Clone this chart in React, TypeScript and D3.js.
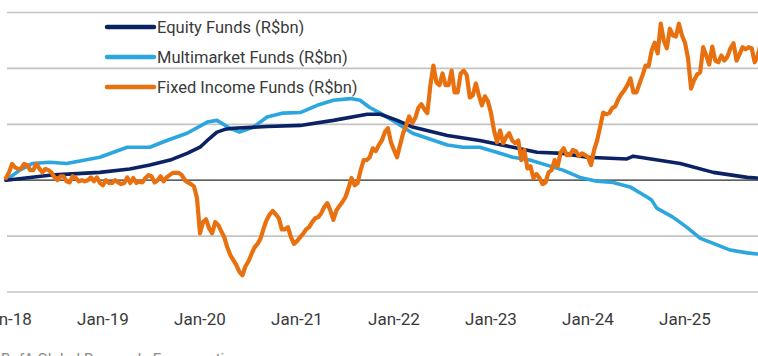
import React from "react";
import * as d3 from "d3";

// ---- Data (cumulative flows, R$bn) ----
const yearLabels = ["Jan-18", "Jan-19", "Jan-20", "Jan-21", "Jan-22", "Jan-23", "Jan-24", "Jan-25"];
const tickYears = [2018, 2019, 2020, 2021, 2022, 2023, 2024, 2025];
const gridValues = [-200, -100, 0, 100, 200, 300];

// Equity funds: months since Jan-18, values
const equityMonths = [0, 5.4, 11.6, 15.3, 17.8, 20.3, 22.4, 24.0, 25.2, 26.1, 27.1, 28.1, 32.3, 36.4, 40.5, 44.7, 46.3, 48.4, 50.3, 54.6, 58.6, 62.7, 65.7, 68.9, 71.9, 76.8, 77.6, 83.4, 87.5, 91.7, 92.9];
const equityValues = [0, 9, 14, 20, 27, 36, 48, 59, 75, 86, 91, 93, 96, 98, 107, 118, 118, 107, 95, 80, 71, 59, 50, 48, 41, 38, 43, 30, 14, 5, 4];

// Multimarket funds: months since Jan-18, values
const multiMonths = [0, 1.7, 3.3, 5.4, 7.5, 11.6, 15.0, 17.8, 19.9, 22.4, 24.9, 26.1, 27.7, 28.9, 30.6, 32.3, 34.3, 36.4, 38.5, 40.5, 42.6, 43.8, 45.0, 46.3, 48.4, 50.3, 54.6, 56.5, 58.6, 60.7, 62.7, 64.8, 66.9, 68.9, 71.0, 73.1, 75.1, 77.2, 79.3, 79.9, 80.5, 82.5, 84.2, 85.9, 87.5, 89.6, 91.7, 92.9];
const multiValues = [0, 18, 30, 32, 30, 41, 59, 59, 71, 84, 104, 107, 93, 86, 95, 113, 120, 121, 134, 143, 146, 143, 130, 120, 102, 84, 63, 59, 59, 50, 41, 36, 27, 18, 5, -2, -4, -12, -30, -36, -50, -66, -84, -104, -113, -125, -130, -132];

// Fixed income funds: one observation every 1/32 year from Jan-18
const fixedStepsPerYear = 32;
const fixedValues = [
  4, 14, 29, 23, 20, 21, 29, 27, 18, 18, 29, 21, 14, 20, 18, 14, 5, 0, 7, 7,
  -2, -4, 7, 4, -2, 0, -2, 0, 5, -2, 5, -5, -9, 0, -5, -5, 0, -4, -7, -5,
  5, -5, 4, -5, -2, -4, 4, 9, 7, -4, 0, 7, -2, 5, 9, 13, 13, 13, 9, 0,
  -4, -7, -11, -32, -95, -75, -70, -86, -95, -75, -80, -91, -102, -120, -134, -143, -152, -164, -170, -154,
  -145, -132, -120, -114, -104, -86, -71, -61, -55, -61, -68, -88, -88, -84, -102, -114, -109, -102, -96, -88,
  -84, -75, -68, -66, -59, -48, -41, -54, -71, -54, -46, -39, -30, -14, 4, -9, -5, 18, 36, 36,
  41, 57, 52, 63, 71, 86, 93, 68, 54, 41, 63, 84, 98, 114, 102, 111, 129, 136, 127, 120,
  170, 205, 175, 170, 191, 170, 170, 196, 157, 157, 191, 196, 188, 148, 152, 173, 152, 134, 150, 141,
  120, 89, 68, 89, 66, 77, 84, 71, 66, 71, 36, 54, 21, 25, 4, 11, 4, -7, -4, 14,
  18, 36, 25, 50, 57, 45, 45, 54, 52, 43, 48, 45, 41, 27, 54, 71, 95, 121, 118, 120,
  129, 132, 145, 154, 161, 170, 182, 157, 157, 173, 188, 205, 204, 232, 246, 227, 280, 250, 236, 271,
  259, 257, 280, 259, 246, 218, 164, 179, 189, 193, 238, 223, 207, 239, 214, 211, 223, 214, 221, 236,
  245, 214, 225, 238, 234, 238, 236, 211, 223, 245,
];

const seriesNames = ["Equity Funds (R$bn)", "Multimarket Funds (R$bn)", "Fixed Income Funds (R$bn)"];
const seriesColors = ["#0b2265", "#2ba6de", "#e8700f"];

type Pt = { t: number; v: number };

export default function App() {
  const W = 758;
  const H = 356;
  const x = d3.scaleLinear().domain([2018, 2018 + (758 - 6) / 97]).range([6, 758]);
  const y = d3.scaleLinear().domain([-200, 300]).range([292, 12.5]);

  const equity: Pt[] = equityMonths.map((m, i) => ({ t: 2018 + m / 12, v: equityValues[i] }));
  const multi: Pt[] = multiMonths.map((m, i) => ({ t: 2018 + m / 12, v: multiValues[i] }));
  const fixed: Pt[] = fixedValues.map((v, i) => ({ t: 2018 + i / fixedStepsPerYear, v }));

  const line = d3
    .line<Pt>()
    .x((d) => x(d.t))
    .y((d) => y(d.v))
    .curve(d3.curveLinear);

  const font = "Roboto, 'Open Sans', sans-serif";
  const legendX1 = 107;
  const legendX2 = 154;
  const legendRows = [27, 57, 87];

  return (
    <svg
      width={W}
      height={H}
      style={{ position: "absolute", left: 0, top: 0, background: "#fff" }}
    >
      <rect x={0} y={0} width={W} height={H} fill="#fff" />
      {gridValues
        .filter((g) => g !== 0)
        .map((g) => (
          <line key={g} x1={7} x2={W} y1={y(g)} y2={y(g)} stroke="#c4c4c4" strokeWidth={1.7} />
        ))}
      <line x1={7} x2={W} y1={y(0)} y2={y(0)} stroke="#2a2a2a" strokeWidth={1.3} />

      {tickYears.map((yr, i) => (
        <text
          key={yr}
          x={x(yr)}
          y={325}
          textAnchor="middle"
          fontFamily={font}
          fontSize={17}
          fill="#3a3a3a"
        >
          {yearLabels[i]}
        </text>
      ))}

      <path d={line(multi) || ""} fill="none" stroke={seriesColors[1]} strokeWidth={3.6} strokeLinejoin="round" strokeLinecap="round" />
      <path d={line(equity) || ""} fill="none" stroke={seriesColors[0]} strokeWidth={3.6} strokeLinejoin="round" strokeLinecap="round" />
      <path d={line(fixed) || ""} fill="none" stroke={seriesColors[2]} strokeWidth={4.2} strokeLinejoin="round" strokeLinecap="round" />

      {seriesNames.map((name, i) => (
        <g key={name}>
          <line
            x1={legendX1}
            x2={legendX2}
            y1={legendRows[i]}
            y2={legendRows[i]}
            stroke={seriesColors[i]}
            strokeWidth={4.5}
            strokeLinecap="round"
          />
          <text
            x={157}
            y={legendRows[i] + 6}
            fontFamily={font}
            fontSize={16.5}
            fill="#3a3a3a"
          >
            {name}
          </text>
        </g>
      ))}

      <text x={1} y={364} fontFamily={font} fontSize={15} fill="#8a8a8a">
        BofA Global Research, Economatica
      </text>
    </svg>
  );
}
